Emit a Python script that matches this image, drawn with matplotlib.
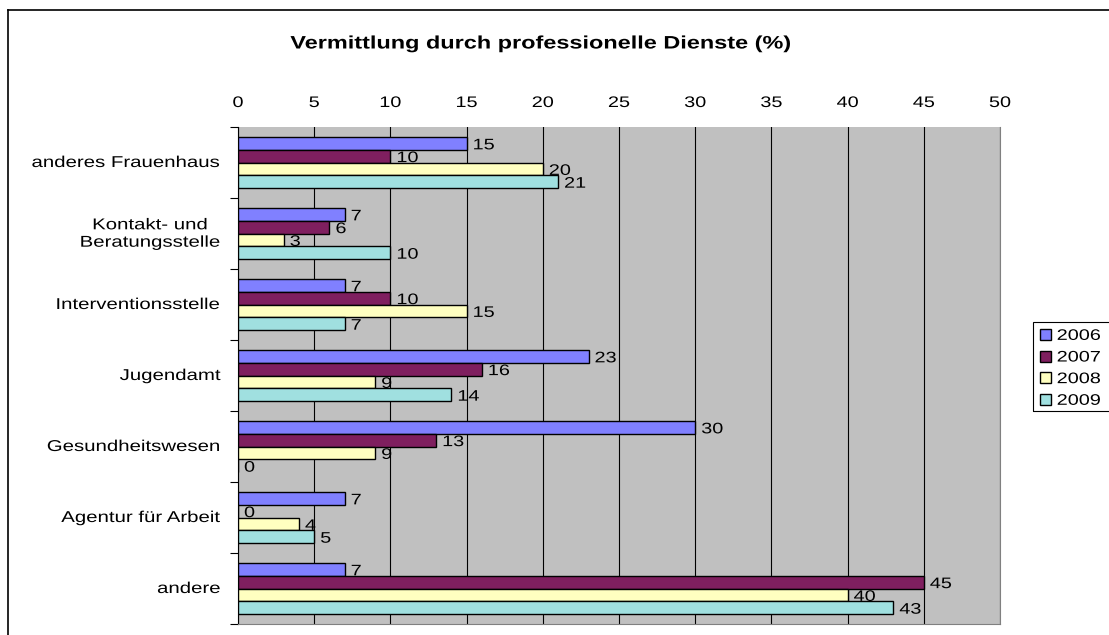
import numpy as np
import matplotlib.pyplot as plt
from matplotlib.lines import Line2D
from matplotlib.patches import Rectangle
from matplotlib.patheffects import AbstractPathEffect
from matplotlib.transforms import Affine2D, blended_transform_factory

plt.rcParams['font.family'] = ['Liberation Sans', 'DejaVu Sans']

categories = ['anderes Frauenhaus', 'Kontakt- und\nBeratungsstelle', 'Interventionsstelle',
              'Jugendamt', 'Gesundheitswesen', 'Agentur für Arbeit', 'andere']
years = ['2006', '2007', '2008', '2009']
v2006 = [15, 7, 7, 23, 30, 7, 7]
v2007 = [10, 6, 10, 16, 13, 0, 45]
v2008 = [20, 3, 15, 9, 9, 4, 40]
v2009 = [21, 10, 7, 14, 0, 5, 43]
series = [v2006, v2007, v2008, v2009]
colors = ['#8080FF', '#7F1F5F', '#FFFFC0', '#A0E0E0']
xticks = np.arange(0, 51, 5)

SX = 1.3  # the source renders its text horizontally widened


class Widen(AbstractPathEffect):
    """Stretch each text line horizontally, keeping its left/center/right fixed."""

    def __init__(self, sx=SX, align='left'):
        super().__init__()
        self.sx = sx
        self.align = align

    def draw_path(self, renderer, gc, tpath, affine, rgbFace=None):
        ext = tpath.get_extents()
        if self.align == 'center':
            ref = (ext.x0 + ext.x1) / 2
        elif self.align == 'right':
            ref = ext.x1
        else:
            ref = 0
        t = Affine2D().translate(-ref, 0).scale(self.sx, 1).translate(ref, 0) + affine
        renderer.draw_path(gc, tpath, t, rgbFace)


fig = plt.figure(figsize=(11.09, 6.35), dpi=100)
ax = fig.add_axes([238 / 1109, 1 - 624 / 635, 762 / 1109, 497 / 635])
ax.set_facecolor('#C0C0C0')

n = len(categories)
h = 0.18
y = np.arange(n)
for i, (vals, c, yr) in enumerate(zip(series, colors, years)):
    pos = y - 1.5 * h + i * h
    ax.barh(pos, vals, height=h, color=c, edgecolor='black', linewidth=1, label=yr, zorder=3)
    for p, v in zip(pos, vals):
        ax.annotate(str(v), (v, p), xytext=(6, -2), textcoords='offset pixels',
                    va='center', ha='left', fontsize=11, zorder=4,
                    path_effects=[Widen(align='left')])

ax.set_xlim(0, 50)
ax.set_ylim(n - 0.5, -0.5)
ax.set_xticks(xticks)
ax.set_xticklabels([])
ax.tick_params(axis='x', length=0)
ax.grid(axis='x', color='black', linewidth=0.8, zorder=1)
ax.set_yticks(np.arange(-0.5, n, 1))
ax.set_yticklabels([])
ax.tick_params(axis='y', length=6, width=0.8, direction='out')
for s in ['right', 'bottom']:
    ax.spines[s].set_color('#808080')
ax.spines['left'].set_color('black')
ax.spines['top'].set_visible(False)

# top tick labels
tx = blended_transform_factory(ax.transData, fig.transFigure)
for t in xticks:
    ax.text(t, 1 - 103 / 635, str(t), transform=tx, ha='center', va='center',
            fontsize=11, path_effects=[Widen(align='center')])

# category labels, right edge at 221 px, lines centred on one another
renderer = fig.canvas.get_renderer()
ty = blended_transform_factory(fig.transFigure, ax.transData)
for yi, lab in zip(y, categories):
    txt = ax.text(0, yi, lab, transform=ty, ha='center', va='center', multialignment='center',
                  fontsize=11.3, path_effects=[Widen(align='center')])
    w = txt.get_window_extent(renderer).width
    txt.set_x((221 - SX * w / 2) / 1109)

fig.text(540 / 1109, 1 - 44 / 635, 'Vermittlung durch professionelle Dienste (%)',
         ha='center', va='center', fontsize=13, fontweight='bold',
         path_effects=[Widen(align='center')])

leg = ax.legend(loc='upper left', bbox_to_anchor=(1033 / 1109, 1 - 322 / 635),
                bbox_transform=fig.transFigure, frameon=False,
                fontsize=11, handlelength=0.75, handleheight=0.75, handletextpad=0.35,
                borderpad=0.45, labelspacing=0.5, borderaxespad=0)
for t in leg.get_texts():
    t.set_path_effects([Widen(align='left')])
fig.add_artist(Rectangle((1033 / 1109, 1 - 411 / 635), 90 / 1109, 89 / 635,
                         transform=fig.transFigure, fill=False, edgecolor='black', linewidth=0.8))

fig.add_artist(Line2D([8 / 1109, 8 / 1109], [0, 1 - 10 / 635], transform=fig.transFigure,
                      color='black', linewidth=1.2))
fig.add_artist(Line2D([8 / 1109, 1], [1 - 10 / 635, 1 - 10 / 635], transform=fig.transFigure,
                      color='black', linewidth=1.2))

fig.savefig('out.png', dpi=100)
